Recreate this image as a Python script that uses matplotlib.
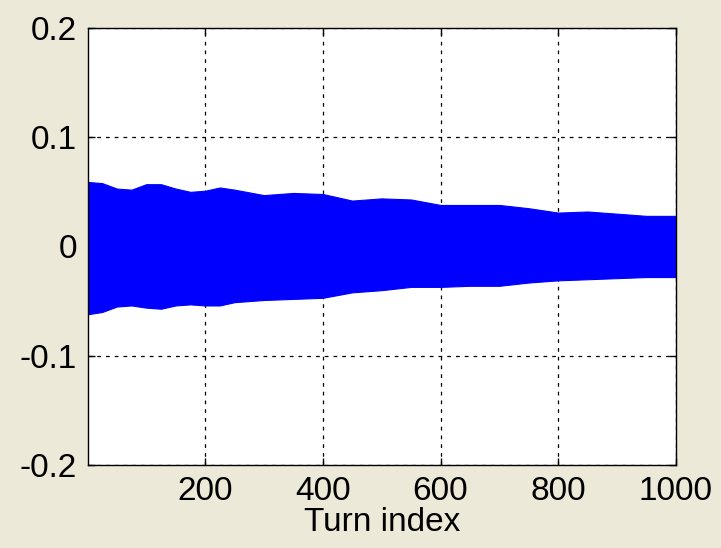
import matplotlib
matplotlib.use("Agg")
import matplotlib.pyplot as plt

plt.rcParams['font.family'] = ['Liberation Sans', 'DejaVu Sans']
plt.rcParams['axes.unicode_minus'] = False

# envelope of the turn-by-turn signal
env_turns = [1, 25, 50, 75, 100, 125, 150, 175, 200, 225, 250, 300, 350,
             400, 450, 500, 550, 600, 650, 700, 750, 800, 850, 900, 950, 1000]
env_upper = [0.059, 0.058, 0.053, 0.052, 0.057, 0.057, 0.053, 0.050, 0.051,
             0.054, 0.052, 0.047, 0.049, 0.048, 0.042, 0.044, 0.043, 0.038,
             0.038, 0.038, 0.035, 0.031, 0.032, 0.030, 0.028, 0.028]
env_lower = [-0.062, -0.060, -0.055, -0.054, -0.056, -0.057, -0.054, -0.053,
             -0.054, -0.054, -0.051, -0.049, -0.048, -0.047, -0.042, -0.040,
             -0.037, -0.037, -0.036, -0.036, -0.033, -0.031, -0.030, -0.029,
             -0.028, -0.028]

xticks = [200, 400, 600, 800, 1000]
yticks = [-0.2, -0.1, 0, 0.1, 0.2]
ytick_labels = ['-0.2', '-0.1', '0', '0.1', '0.2']

bg = '#ECE9D8'
fig = plt.figure(figsize=(7.21, 5.48), dpi=100, facecolor=bg)
ax = fig.add_axes([0.122, 0.1515, 0.8155, 0.7975])
ax.set_facecolor('white')
ax.set_axisbelow(True)

ax.fill_between(env_turns, env_lower, env_upper, color='#0000FF', lw=0.8,
                edgecolor='#0000FF', zorder=2)

ax.set_xlim(1, 1000)
ax.set_ylim(-0.2, 0.2)
ax.set_xticks(xticks)
ax.set_yticks(yticks)
ax.set_yticklabels(ytick_labels)
ax.grid(True, color='black', ls=(0, (3, 4)), lw=0.9, zorder=1)
ax.tick_params(direction='in', length=5, width=1, labelsize=24,
               top=True, right=True, pad=8)
for s in ax.spines.values():
    s.set_linewidth(1)
    s.set_zorder(3)
ax.set_xlabel('Turn index', fontsize=24, labelpad=0)

fig.savefig('out.png', dpi=100, facecolor=bg)
